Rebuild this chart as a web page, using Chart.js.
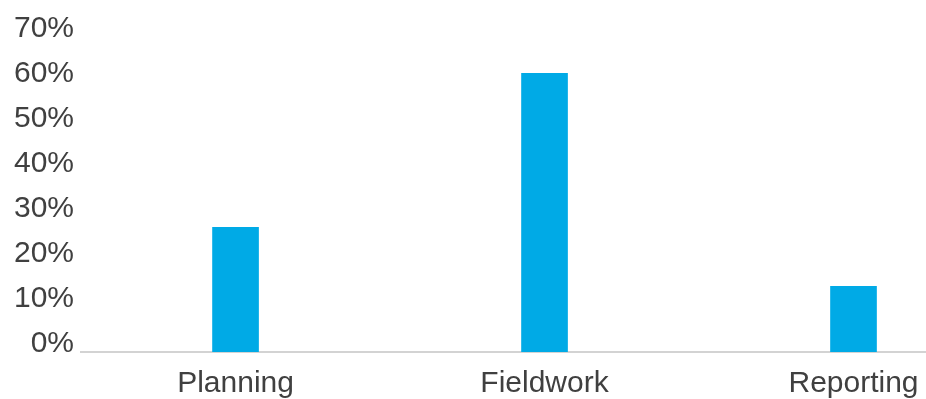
<!DOCTYPE html>
<html lang="en">
<head>
  <meta charset="UTF-8" />
  <title>Share of time by phase</title>
  <style>
    html, body {
      margin: 0;
      padding: 0;
      background: #fff;
      overflow: hidden;
    }
    #wrap {
      width: 926px;
      height: 399px;
      overflow: hidden;
    }
  </style>
  <script src="https://cdn.jsdelivr.net/npm/chart.js"></script>
</head>
<body>
  <div id="wrap">
    <canvas id="phaseChart" width="1010" height="416"></canvas>
  </div>

  <script>
    const phases = ["Planning", "Fieldwork", "Reporting"];
    const shares = [27.7, 61.9, 14.6];
    const yTicks = [0, 10, 20, 30, 40, 50, 60, 70];

    const textColor = "#404040";
    const font = { family: "'Liberation Sans', Arial, sans-serif", size: 30 };

    const ctx = document.getElementById("phaseChart").getContext("2d");
    new Chart(ctx, {
      type: "bar",
      data: {
        labels: phases,
        datasets: [{
          data: shares,
          backgroundColor: "#00AAE6",
          borderWidth: 0,
          barThickness: 46
        }]
      },
      options: {
        responsive: false,
        animation: false,
        layout: {
          padding: { left: 7, right: 2, top: 37, bottom: 0 }
        },
        plugins: {
          legend: { display: false },
          tooltip: { enabled: false }
        },
        scales: {
          x: {
            grid: { display: false, drawTicks: false },
            border: { display: true, color: "#d3d3d3", width: 2 },
            ticks: { color: textColor, font: font, padding: 14 }
          },
          y: {
            min: yTicks[0],
            max: yTicks[yTicks.length - 1],
            afterBuildTicks: axis => {
              axis.ticks = yTicks.map(v => ({ value: v }));
            },
            grid: { display: false, drawTicks: false },
            border: { display: false },
            ticks: {
              color: textColor,
              font: font,
              padding: 7,
              labelOffset: -8,
              callback: v => v + "%"
            }
          }
        }
      }
    });
  </script>
</body>
</html>
